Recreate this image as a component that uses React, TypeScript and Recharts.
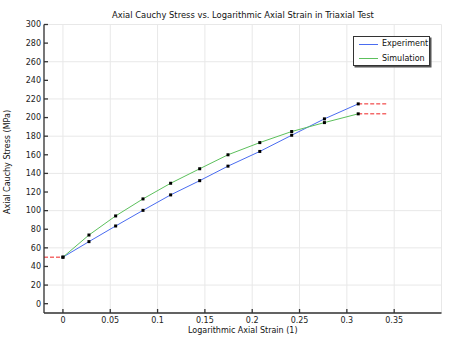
import React from 'react';
import { LineChart, Line, XAxis, YAxis, CartesianGrid, Legend } from 'recharts';

// logarithmic axial strain at each measured / simulated state
const strain = [0, 0.0275, 0.0557, 0.0846, 0.1138, 0.1445, 0.1744, 0.208, 0.2417, 0.2763, 0.312];
const experimentStress = [50, 66.7, 83.5, 100.3, 116.9, 132.2, 147.8, 163.6, 181, 198.6, 214.7];
const simulationStress = [50, 73.8, 94.3, 112.6, 129.4, 145, 160, 173.1, 185, 194.6, 204];

// dashed extensions (initial confining stress and final plateau)
const leftExtStrain = [-0.02, 0];
const rightExtStrain = [0.312, 0.343];

const xTicks = [0, 0.05, 0.1, 0.15, 0.2, 0.25, 0.3, 0.35];
const yTicks = [0, 20, 40, 60, 80, 100, 120, 140, 160, 180, 200, 220, 240, 260, 280, 300];

const data = strain.map((x, i) => ({ x, exp: experimentStress[i], sim: simulationStress[i] }));
const leftExt = leftExtStrain.map((x) => ({ x, v: experimentStress[0] }));
const rightExp = rightExtStrain.map((x) => ({ x, v: experimentStress[experimentStress.length - 1] }));
const rightSim = rightExtStrain.map((x) => ({ x, v: simulationStress[simulationStress.length - 1] }));

const FONT = 'DejaVu Sans, sans-serif';
const BLUE = '#4a6cf0';
const GREEN = '#5cc05c';
const RED = '#ee2222';
const tickStyle = { fontSize: 8, fill: '#222', fontFamily: FONT };

const Dot = (props: any) => {
  const { cx, cy } = props;
  if (cx == null || cy == null) return null;
  return <rect x={cx - 1.5} y={cy - 1.5} width={3} height={3} fill="#000" />;
};

const fmt = (v: number) => String(v);

export default function App() {
  return (
    <div style={{ position: 'absolute', left: 0, top: 0, width: 450, height: 338, background: '#fff', fontFamily: FONT }}>
      <div style={{ position: 'absolute', top: 10, left: 44, width: 398, textAlign: 'center', fontSize: 8.4, color: '#111', lineHeight: '10px' }}>
        Axial Cauchy Stress vs. Logarithmic Axial Strain in Triaxial Test
      </div>
      <div
        style={{
          position: 'absolute',
          left: 7.5,
          top: 162,
          transform: 'translate(-50%, -50%) rotate(-90deg)',
          whiteSpace: 'nowrap',
          fontSize: 8,
          color: '#111',
          lineHeight: '10px',
        }}
      >
        Axial Cauchy Stress (MPa)
      </div>
      <LineChart width={450} height={338} margin={{ top: 24.5, right: 8.5, bottom: 0, left: 14 }}>
        <CartesianGrid xAxisId="b" yAxisId="l" stroke="#e8e8e8" strokeWidth={1} />
        <XAxis
          xAxisId="b"
          type="number"
          dataKey="x"
          domain={[-0.02, 0.4]}
          ticks={xTicks}
          tickFormatter={fmt}
          height={25}
          tick={tickStyle}
          tickSize={-4}
          tickMargin={8}
          stroke="#333"
          strokeWidth={1.3}
          allowDataOverflow
          label={{ value: 'Logarithmic Axial Strain (1)', position: 'insideBottom', offset: 5, style: { fontSize: 8, fill: '#111', fontFamily: FONT } }}
        />
        <XAxis
          xAxisId="t"
          orientation="top"
          type="number"
          dataKey="x"
          domain={[-0.02, 0.4]}
          ticks={xTicks}
          height={0}
          tick={false}
          tickSize={-4}
          stroke="#333"
          strokeWidth={1.3}
          allowDataOverflow
        />
        <YAxis
          yAxisId="l"
          type="number"
          domain={[-10, 300]}
          ticks={yTicks}
          width={30}
          tick={tickStyle}
          tickSize={-4}
          tickMargin={7}
          stroke="#333"
          strokeWidth={1.3}
          allowDataOverflow
        />
        <YAxis
          yAxisId="r"
          orientation="right"
          type="number"
          domain={[-10, 300]}
          ticks={yTicks}
          width={0}
          tick={false}
          tickSize={-4}
          stroke="#333"
          strokeWidth={1.3}
          allowDataOverflow
        />
        <Legend
          layout="vertical"
          verticalAlign="top"
          align="right"
          content={() => (
            <div
              style={{
                position: 'absolute',
                left: 353,
                top: 35.5,
                width: 77,
                height: 30,
                border: '1px solid #333',
                background: '#fff',
                boxShadow: '1.5px 1.5px 0 #555',
                fontSize: 8,
                fontFamily: FONT,
                color: '#111',
                boxSizing: 'border-box',
              }}
            >
              {[
                { name: 'Experiment', color: BLUE },
                { name: 'Simulation', color: GREEN },
              ].map((e, i) => (
                <div key={e.name} style={{ position: 'absolute', left: 5, top: 2.5 + i * 14.5, display: 'flex', alignItems: 'center', lineHeight: '10px' }}>
                  <span style={{ display: 'inline-block', width: 19, height: 0, borderTop: `1px solid ${e.color}`, marginRight: 4 }} />
                  {e.name}
                </div>
              ))}
            </div>
          )}
          wrapperStyle={{ left: 0, top: 0, width: 0, height: 0 }}
        />
        <Line xAxisId="b" yAxisId="l" data={leftExt} dataKey="v" stroke={RED} strokeDasharray="4 2" dot={false} isAnimationActive={false} legendType="none" />
        <Line xAxisId="b" yAxisId="l" data={rightExp} dataKey="v" stroke={RED} strokeDasharray="4 2" dot={false} isAnimationActive={false} legendType="none" />
        <Line xAxisId="b" yAxisId="l" data={rightSim} dataKey="v" stroke={RED} strokeDasharray="4 2" dot={false} isAnimationActive={false} legendType="none" />
        <Line
          xAxisId="b"
          yAxisId="l"
          data={data}
          dataKey="exp"
          name="Experiment"
          stroke={BLUE}
          strokeWidth={1}
          dot={<Dot />}
          isAnimationActive={false}
        />
        <Line
          xAxisId="b"
          yAxisId="l"
          data={data}
          dataKey="sim"
          name="Simulation"
          stroke={GREEN}
          strokeWidth={1}
          dot={<Dot />}
          isAnimationActive={false}
        />
      </LineChart>
    </div>
  );
}
